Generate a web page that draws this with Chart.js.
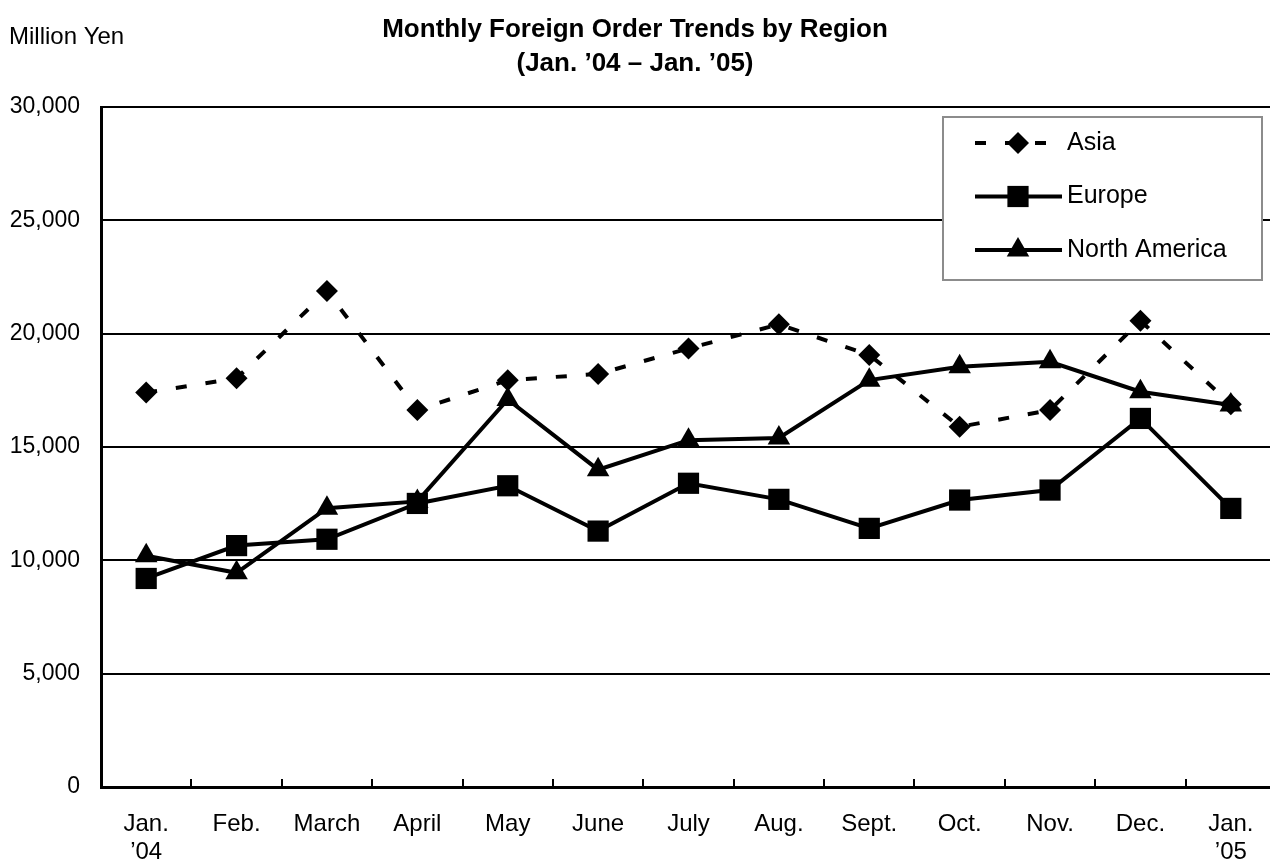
<!DOCTYPE html>
<html>
<head>
<meta charset="utf-8">
<title>Monthly Foreign Order Trends by Region</title>
<script src="https://cdn.jsdelivr.net/npm/chart.js@4.4.0/dist/chart.umd.min.js"></script>
<style>
  html, body { margin: 0; padding: 0; overflow: hidden; background: #fff; }
  #contenedor { width: 1291px; height: 865px; }
  canvas { display: block; }
</style>
</head>
<body>
<div id="contenedor"><canvas id="grafico" width="1291" height="865"></canvas></div>
<script>
// datos (millones de yenes)
const meses = [["Jan.", "\u201904"], "Feb.", "March", "April", "May", "June", "July", "Aug.", "Sept.", "Oct.", "Nov.", "Dec.", ["Jan.", "\u201905"]];
const asia = [17400, 18030, 21880, 16630, 17950, 18220, 19350, 20410, 19060, 15890, 16630, 20570, 16890];
const europa = [9200, 10650, 10930, 12510, 13290, 11290, 13400, 12690, 11410, 12660, 13100, 16260, 12290];
const norteamerica = [10200, 9450, 12300, 12600, 17100, 14000, 15300, 15400, 17950, 18540, 18760, 17440, 16850];
const ticksY = [0, 5000, 10000, 15000, 20000, 25000, 30000];

const fuente = "'Liberation Sans', Arial, sans-serif";

const series = [
  { label: "Asia", data: asia, dash: [11, 19], estilo: "rectRot", radio: 11 },
  { label: "Europe", data: europa, dash: [], estilo: "rect", radio: 15 },
  { label: "North America", data: norteamerica, dash: [], estilo: "triangle", radio: 13 }
];

/*------------------------ titulo, leyenda y marcas del eje ------------------------*/
const decorado = {
  id: "decorado",
  beforeDatasetsDraw(chart) {
    const ctx = chart.ctx, x = chart.scales.x, area = chart.chartArea;
    ctx.save();
    ctx.strokeStyle = "#000";
    ctx.lineWidth = 2;
    for (let i = 1; i < meses.length; i++) {
      const px = Math.round((x.getPixelForValue(i - 1) + x.getPixelForValue(i)) / 2);
      ctx.beginPath();
      ctx.moveTo(px, area.bottom);
      ctx.lineTo(px, area.bottom - 8);
      ctx.stroke();
    }
    ctx.restore();
  },
  afterDraw(chart) {
    const ctx = chart.ctx, area = chart.chartArea;
    ctx.save();
    ctx.fillStyle = "#000";
    ctx.textBaseline = "middle";

    ctx.font = "24px " + fuente;
    ctx.textAlign = "left";
    ctx.fillText("Million Yen", 9, 37);

    ctx.font = "bold 26px " + fuente;
    ctx.textAlign = "center";
    ctx.fillText("Monthly Foreign Order Trends by Region", 635, 30);
    ctx.fillText("(Jan. \u201904 \u2013 Jan. \u201905)", 635, 64);

    // leyenda
    const caja = { x: area.right - 333, y: area.top + 10, w: 319, h: 163 };
    ctx.fillStyle = "#fff";
    ctx.fillRect(caja.x, caja.y, caja.w, caja.h);
    ctx.strokeStyle = "#8c8c8c";
    ctx.lineWidth = 2;
    ctx.strokeRect(caja.x, caja.y, caja.w, caja.h);

    series.forEach((s, i) => {
      const cy = caja.y + 26 + i * 53.5;
      ctx.strokeStyle = "#000";
      ctx.lineWidth = 4;
      ctx.lineCap = "butt";
      ctx.setLineDash(s.dash);
      ctx.beginPath();
      ctx.moveTo(caja.x + 32, cy);
      ctx.lineTo(caja.x + 119, cy);
      ctx.stroke();
      ctx.setLineDash([]);
      ctx.fillStyle = "#000";
      Chart.helpers.drawPoint(ctx, { pointStyle: s.estilo, radius: s.radio, borderWidth: 0, rotation: 0 }, caja.x + 75, cy);
      ctx.font = "25px " + fuente;
      ctx.textAlign = "left";
      ctx.fillText(s.label, caja.x + 124, cy);
    });
    ctx.restore();
  }
};

let miCanvas = document.getElementById("grafico").getContext("2d");
const chart = new Chart(miCanvas, {
  type: "line",
  data: {
    labels: meses,
    datasets: series.map(s => ({
      label: s.label,
      data: s.data,
      borderColor: "#000",
      backgroundColor: "#000",
      borderWidth: 4,
      borderDash: s.dash,
      tension: 0,
      fill: false,
      pointStyle: s.estilo,
      pointRadius: s.radio,
      pointHoverRadius: s.radio,
      pointBorderWidth: 0,
      pointBackgroundColor: "#000"
    }))
  },
  options: {
    responsive: false,
    animation: false,
    events: [],
    layout: { padding: { top: 107, left: 0, right: 0, bottom: 0 } },
    plugins: {
      legend: { display: false },
      title: { display: false },
      tooltip: { enabled: false }
    },
    scales: {
      x: {
        offset: true,
        grid: { display: false, drawTicks: false },
        border: { display: true, color: "#000", width: 3 },
        ticks: {
          color: "#000",
          font: { family: fuente, size: 24, lineHeight: 1.17 },
          padding: 23,
          maxRotation: 0,
          autoSkip: false
        },
        afterFit(s) { s.height = 78; s.paddingLeft = 0; s.paddingRight = 0; }
      },
      y: {
        min: 0,
        max: 30000,
        afterBuildTicks(s) { s.ticks = ticksY.map(v => ({ value: v })); },
        grid: { color: "#000", lineWidth: 2, drawTicks: false },
        border: { display: true, color: "#000", width: 3 },
        ticks: {
          color: "#000",
          font: { family: fuente, size: 23 },
          padding: 21,
          callback: v => v.toLocaleString("en-US")
        },
        afterFit(s) { s.width = 101; }
      }
    }
  },
  plugins: [decorado]
});
</script>
</body>
</html>
